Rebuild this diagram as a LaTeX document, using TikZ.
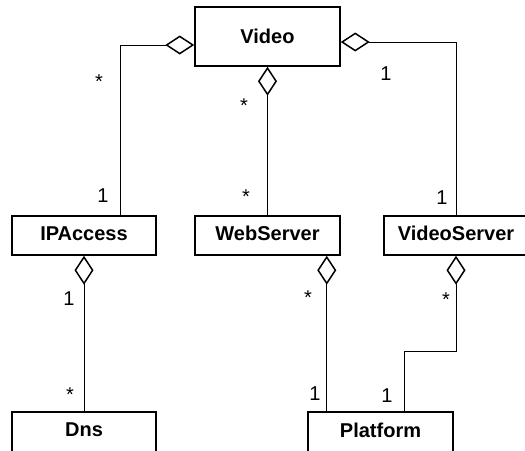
\documentclass[tikz,border=0pt]{standalone}
\usepackage{fontspec}
\setmainfont{Liberation Sans}
\usetikzlibrary{arrows.meta}

\tikzset{
	class/.style={draw, line width=1.5pt, inner sep=0pt, text depth=4pt, minimum width=144pt, minimum height=39pt, font=\fontsize{20}{24}\selectfont\bfseries},
	mult/.style={anchor=base, inner sep=0pt, font=\fontsize{20}{24}\selectfont},
	agg/.style={line width=0.9pt, arrows={{Diamond[open, length=29pt, width=19pt, line width=1.5pt]}-}}
}

\begin{document}
\begin{tikzpicture}[x=1pt,y=1pt,yscale=-1]
	%set diagram size to 525 x 450
	\clip (0,0) rectangle (525,450);
	
	% Classes
	\node [class, text depth=0pt, minimum width=145pt, minimum height=59pt] (video) at (267.5,36.5) {Video};
	\node [class] (ipaccess) at (84,235.5) {IPAccess};
	\node [class, minimum width=145pt] (webserver) at (267.5,235.5) {WebServer};
	\node [class] (videoserver) at (456,235.5) {VideoServer};
	\node [class, text depth=7pt, minimum height=43pt] (dns) at (84,433.5) {Dns};
	\node [class, text depth=7pt, minimum width=145pt, minimum height=43pt] (platform) at (380.5,433.5) {Platform};
	
	% Aggregations
	\draw [agg] ([yshift=8.5pt]video.west) -| ([xshift=36pt]ipaccess.north);
	\draw [agg] (video.south) -- (webserver.north);
	\draw [agg] ([yshift=5.5pt]video.east) -| (videoserver.north);
	\draw [agg] (ipaccess.south) -- (dns.north);
	\coordinate (wsfoot) at ([xshift=-14pt]webserver.south east);
	\draw [agg] (wsfoot) -- (wsfoot |- platform.north);
	\coordinate (vsjog) at (404,351);
	\draw [agg] (videoserver.south) |- (vsjog) -- (vsjog |- platform.north);
	
	% Multiplicities
	\node [mult] (m1) at (99,88) {*};
	\node [mult] (m2) at (386,80) {1};
	\node [mult] (m3) at (244,112) {*};
	\node [mult] (m4) at (103,202) {1};
	\node [mult] (m5) at (246,203) {*};
	\node [mult] (m6) at (442,204) {1};
	\node [mult] (m7) at (69,305) {1};
	\node [mult] (m8) at (308,304) {*};
	\node [mult] (m9) at (446,306) {*};
	\node [mult] (m10) at (70,401) {*};
	\node [mult] (m11) at (315,400) {1};
	\node [mult] (m12) at (387,402) {1};
\end{tikzpicture}
\end{document}
